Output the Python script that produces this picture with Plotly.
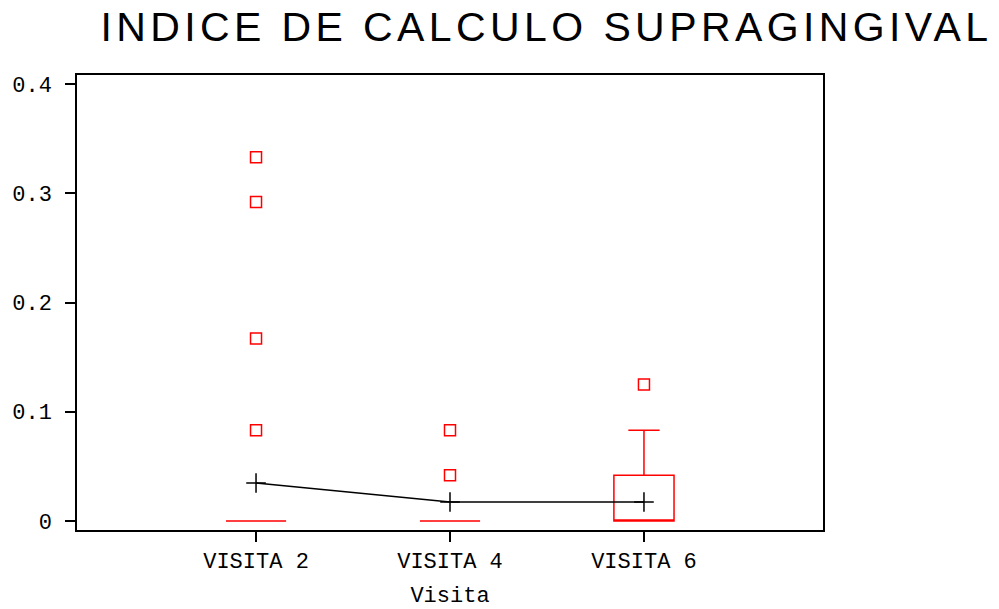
import plotly.graph_objects as go

# ---- data ----
categories = ["VISITA 2", "VISITA 4", "VISITA 6"]
q1_vals = [0.0, 0.0, 0.0]
median_vals = [0.0, 0.0, 0.0]
q3_vals = [0.0, 0.0, 0.042]
lower_whisker = [0.0, 0.0, 0.0]
upper_whisker = [0.0, 0.0, 0.083]
mean_vals = [0.0348, 0.0174, 0.0174]
outlier_x = ["VISITA 2", "VISITA 2", "VISITA 2", "VISITA 2",
             "VISITA 4", "VISITA 4", "VISITA 6"]
outlier_y = [0.333, 0.292, 0.167, 0.083, 0.083, 0.042, 0.125]
y_ticks = [0, 0.1, 0.2, 0.3, 0.4]
y_tick_labels = ["0", "0.1", "0.2", "0.3", "0.4"]
title_text = "INDICE DE CALCULO SUPRAGINGIVAL"

RED = "#ff0000"
MONO = "Liberation Mono, DejaVu Sans Mono, monospace"

fig = go.Figure()

fig.add_trace(go.Box(
    x=categories, q1=q1_vals, median=median_vals, q3=q3_vals,
    lowerfence=lower_whisker, upperfence=upper_whisker,
    boxpoints=False, width=0.31, whiskerwidth=0.52,
    line=dict(color=RED, width=1.5), fillcolor="rgba(0,0,0,0)",
    showlegend=False, hoverinfo="skip",
))

fig.add_trace(go.Scatter(
    x=outlier_x, y=outlier_y, mode="markers",
    marker=dict(symbol="square-open", size=11, color=RED,
                line=dict(color=RED, width=1.5)),
    showlegend=False, hoverinfo="skip",
))

fig.add_trace(go.Scatter(
    x=categories, y=mean_vals, mode="lines+markers",
    line=dict(color="black", width=1.5),
    marker=dict(symbol="cross-thin", size=14, color="black",
                line=dict(color="black", width=1.5)),
    showlegend=False, hoverinfo="skip",
))

fig.update_layout(
    width=999, height=609,
    paper_bgcolor="white", plot_bgcolor="white",
    margin=dict(l=77, r=176, t=75, b=79, autoexpand=False),
    title=dict(text='<span style="letter-spacing:4.4px">' + title_text + '</span>',
               font=dict(family="Liberation Sans, Arial, sans-serif", size=41, color="black"),
               x=0.547, xanchor="center", y=0.957, yanchor="middle"),
    xaxis=dict(
        type="category", categoryorder="array", categoryarray=categories,
        range=[-0.923, 2.923], automargin=False,
        showgrid=False, zeroline=False,
        showline=True, linecolor="black", linewidth=1.5, mirror=True,
        ticks="outside", ticklen=10, tickwidth=1.5, tickcolor="black",
        tickfont=dict(family=MONO, size=22, color="black"),
        title=dict(text="Visita", font=dict(family=MONO, size=22, color="black"), standoff=22),
    ),
    yaxis=dict(
        range=[-0.0082, 0.4082], automargin=False,
        tickvals=y_ticks, ticktext=y_tick_labels,
        showgrid=False, zeroline=False,
        showline=True, linecolor="black", linewidth=1.5, mirror=True,
        ticks="outside", ticklen=10, tickwidth=1.5, tickcolor="black",
        ticklabelstandoff=9,
        tickfont=dict(family=MONO, size=22, color="black"),
    ),
)

fig.write_html("out.html", config={"displayModeBar": False},
               post_script="document.body.style.margin='0';")
